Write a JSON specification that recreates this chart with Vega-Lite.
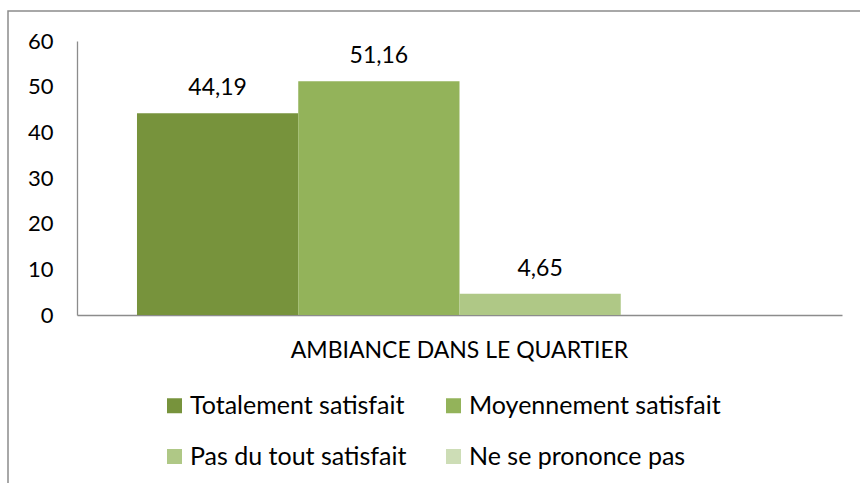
{
  "$schema": "https://vega.github.io/schema/vega-lite/v6.json",
  "width": 860,
  "height": 480,
  "autosize": {"type": "none"},
  "padding": {"left": 8, "top": 11, "right": 0, "bottom": 0},
  "background": "white",
  "config": {
    "view": {"stroke": "#8c8c8c", "strokeWidth": 1.5},
    "font": "Lato",
    "locale": {"number": {"decimal": ",", "thousands": " ", "grouping": [3], "currency": ["", " €"]}}
  },
  "data": {
    "values": [
      {"categorie": "AMBIANCE DANS LE QUARTIER", "reponse": "Totalement satisfait", "pourcentage": 44.19},
      {"categorie": "AMBIANCE DANS LE QUARTIER", "reponse": "Moyennement satisfait", "pourcentage": 51.16},
      {"categorie": "AMBIANCE DANS LE QUARTIER", "reponse": "Pas du tout satisfait", "pourcentage": 4.65},
      {"categorie": "AMBIANCE DANS LE QUARTIER", "reponse": "Ne se prononce pas", "pourcentage": 0}
    ]
  },
  "encoding": {
    "x": {
      "field": "categorie", "type": "nominal",
      "scale": {"range": [69, 834], "paddingInner": 0, "paddingOuter": 0.093},
      "axis": {
        "title": null, "offset": -176, "domainColor": "#8c8c8c", "domainWidth": 1.3,
        "ticks": false, "labelAngle": 0, "labelFontSize": 23, "labelColor": "#000000",
        "labelPadding": 24, "labelFont": "Lato", "labelLimit": 0
      }
    },
    "xOffset": {
      "field": "reponse", "type": "nominal",
      "sort": ["Totalement satisfait", "Moyennement satisfait", "Pas du tout satisfait", "Ne se prononce pas"],
      "scale": {"paddingInner": 0, "paddingOuter": 0}
    },
    "y": {
      "field": "pourcentage", "type": "quantitative",
      "scale": {"domain": [0, 60], "range": [304, 30], "nice": false},
      "axis": {
        "title": null, "offset": -69, "values": [0, 10, 20, 30, 40, 50, 60],
        "grid": false, "ticks": false, "domainColor": "#8c8c8c", "domainWidth": 1.3,
        "labelFontSize": 22, "labelColor": "#000000", "labelPadding": 24, "labelFont": "Lato"
      }
    }
  },
  "layer": [
    {
      "mark": {"type": "bar"},
      "encoding": {
        "color": {
          "field": "reponse", "type": "nominal",
          "sort": ["Totalement satisfait", "Moyennement satisfait", "Pas du tout satisfait", "Ne se prononce pas"],
          "scale": {"range": ["#77933C", "#93B35A", "#AFC886", "#CDDDB6"]},
          "legend": {
            "title": null, "orient": "none", "legendX": 154, "legendY": 382,
            "columns": 2, "direction": "horizontal", "symbolType": "square", "symbolSize": 225,
            "symbolStrokeWidth": 0, "symbolOpacity": 1, "labelFontSize": 25, "labelColor": "#000000",
            "labelFont": "Lato", "rowPadding": 25, "columnPadding": 34, "labelOffset": 3, "labelLimit": 0
          }
        }
      }
    },
    {
      "transform": [{"filter": "datum.pourcentage > 0"}],
      "mark": {"type": "text", "baseline": "alphabetic", "dy": -18, "fontSize": 23, "font": "Lato", "color": "#000000"},
      "encoding": {
        "text": {"field": "pourcentage", "type": "quantitative", "format": ".2f"}
      }
    }
  ]
}
